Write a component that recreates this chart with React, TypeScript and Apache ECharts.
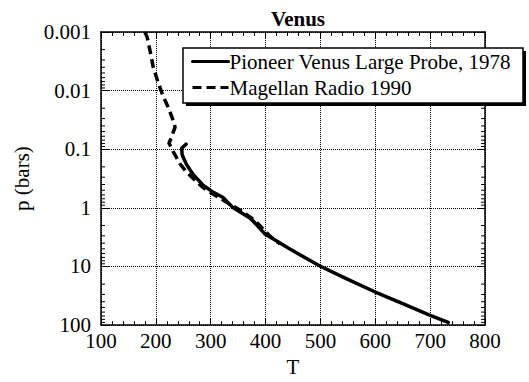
import React, { useEffect, useRef } from "react";
import * as echarts from "echarts";

// Pioneer Venus Large Probe, 1978 (solid)
const pioneerT = [255, 247, 248, 256, 268, 286, 304, 322, 341, 372, 385, 399, 421, 445, 499, 548, 599, 649, 700, 733];
const pioneerP = [0.082, 0.096, 0.125, 0.183, 0.27, 0.41, 0.54, 0.66, 1.0, 1.5, 2.0, 2.8, 3.7, 5.1, 9.8, 16.3, 27, 42.7, 68, 90];

// Magellan Radio 1990 (dashed)
const magellanT = [180, 184, 189, 195, 204, 213, 222, 229, 235, 229, 224, 231, 244, 255, 268, 286, 304, 326, 353, 381, 408, 426];
const magellanP = [0.001, 0.00121, 0.002, 0.0039, 0.0072, 0.0123, 0.0188, 0.0277, 0.042, 0.06, 0.079, 0.107, 0.177, 0.24, 0.315, 0.45, 0.58, 0.77, 1.09, 1.65, 3.05, 4.1];

const seriesNames = ["Pioneer Venus Large Probe, 1978", "Magellan Radio 1990"];
const xTicks = [100, 200, 300, 400, 500, 600, 700, 800];
const yTicks = [0.001, 0.01, 0.1, 1, 10, 100];
const minorMultipliers = [2, 3, 4, 5, 6, 7, 8, 9];

const FONT = "Liberation Serif";

export default function App() {
  const ref = useRef<HTMLDivElement>(null);
  useEffect(() => {
    if (!ref.current) return;
    const chart = echarts.init(ref.current, null, { renderer: "svg" });
    const minorTickVals: number[] = [];
    for (let i = 0; i < yTicks.length - 1; i++) {
      for (const m of minorMultipliers) minorTickVals.push(yTicks[i] * m);
    }
    const xMin = xTicks[0];
    const xMax = xTicks[xTicks.length - 1];
    const axisLineStyle = { color: "#000", width: 1.5 };
    chart.setOption({
      animation: false,
      backgroundColor: "#fff",
      textStyle: { fontFamily: FONT, color: "#000" },
      title: {
        text: "Venus",
        left: 293,
        textAlign: "center",
        top: 3,
        textStyle: { fontFamily: FONT, fontSize: 21, fontWeight: "bold", color: "#000" },
      },
      grid: { left: 101, right: 44, top: 32, bottom: 52, containLabel: false },
      graphic: [
        { type: "rect", z: 20, shape: { x: 186, y: 51, width: 340, height: 55 }, style: { fill: "#000" } },
        { type: "rect", z: 21, shape: { x: 183, y: 48, width: 340, height: 55 }, style: { fill: "#fff", stroke: "#000", lineWidth: 1.5 } },
      ],
      legend: {
        z: 30,
        orient: "vertical",
        left: 186,
        top: 46,
        itemGap: 5,
        itemWidth: 36,
        itemHeight: 20,
        data: seriesNames,
        itemStyle: { opacity: 0 },
        lineStyle: { width: 3 },
        textStyle: { fontFamily: FONT, fontSize: 21, color: "#000", padding: [0, 0, 0, -4] },
      },
      xAxis: [
        {
          type: "value",
          min: xMin,
          max: xMax,
          interval: 100,
          name: "T",
          nameLocation: "middle",
          nameGap: 30,
          nameTextStyle: { fontFamily: FONT, fontSize: 21, color: "#000" },
          axisLine: { show: true, lineStyle: axisLineStyle },
          axisTick: { show: true, inside: true, length: 7, lineStyle: { color: "#000", width: 1 } },
          minorTick: { show: true, splitNumber: 5, length: 4, lineStyle: { color: "#000", width: 1 } },
          axisLabel: { fontFamily: FONT, fontSize: 21, color: "#000", margin: 5 },
          splitLine: { show: true, lineStyle: { color: "#000", type: "dotted", width: 1 } },
        },
        {
          type: "value",
          position: "top",
          min: xMin,
          max: xMax,
          interval: 100,
          axisLine: { show: true, lineStyle: axisLineStyle },
          axisTick: { show: true, inside: true, length: 7, lineStyle: { color: "#000", width: 1 } },
          minorTick: { show: true, splitNumber: 5, length: 4, lineStyle: { color: "#000", width: 1 } },
          axisLabel: { show: false },
          splitLine: { show: false },
        },
      ],
      yAxis: [
        {
          type: "log",
          logBase: 10,
          inverse: true,
          min: yTicks[0],
          max: yTicks[yTicks.length - 1],
          name: "p (bars)",
          nameLocation: "middle",
          nameGap: 48,
          nameTextStyle: { fontFamily: FONT, fontSize: 21, color: "#000" },
          axisLine: { show: true, lineStyle: axisLineStyle },
          axisTick: { show: true, inside: true, length: 8, lineStyle: { color: "#000", width: 1 } },
          axisLabel: {
            fontFamily: FONT,
            fontSize: 21,
            color: "#000",
            margin: 10,
            formatter: (v: number) => {
              const found = yTicks.find((t) => Math.abs(t - v) / t < 1e-6);
              return found !== undefined ? String(found) : "";
            },
          },
          splitLine: { show: true, lineStyle: { color: "#000", type: "dotted", width: 1 } },
        },
        {
          type: "log",
          logBase: 10,
          inverse: true,
          position: "right",
          min: yTicks[0],
          max: yTicks[yTicks.length - 1],
          axisLine: { show: true, lineStyle: axisLineStyle },
          axisTick: { show: true, inside: true, length: 8, lineStyle: { color: "#000", width: 1 } },
          axisLabel: { show: false },
          splitLine: { show: false },
        },
      ],
      series: [
        {
          name: seriesNames[0],
          type: "line",
          xAxisIndex: 0,
          yAxisIndex: 0,
          symbol: "none",
          data: pioneerT.map((t, i) => [t, pioneerP[i]]),
          lineStyle: { color: "#000", width: 3.5, type: "solid", cap: "round", join: "round" },
          itemStyle: { color: "#000" },
          z: 5,
        },
        {
          name: seriesNames[1],
          type: "line",
          xAxisIndex: 0,
          yAxisIndex: 0,
          symbol: "none",
          data: magellanT.map((t, i) => [t, magellanP[i]]),
          lineStyle: { color: "#000", width: 3.5, type: [9, 5], join: "round" },
          itemStyle: { color: "#000" },
          z: 5,
        },
        {
          name: "minorTicks",
          type: "custom",
          xAxisIndex: 0,
          yAxisIndex: 0,
          silent: true,
          clip: false,
          data: minorTickVals.map((p) => [xMin, p]),
          renderItem: (params: any, api: any) => {
            const p = api.value(1);
            const left = api.coord([xMin, p]);
            const right = api.coord([xMax, p]);
            const len = 4;
            const style = { stroke: "#000", lineWidth: 1 };
            return {
              type: "group",
              children: [
                { type: "line", shape: { x1: left[0], y1: left[1], x2: left[0] + len, y2: left[1] }, style },
                { type: "line", shape: { x1: right[0], y1: right[1], x2: right[0] - len, y2: right[1] }, style },
              ],
            };
          },
        },
      ],
    });
    return () => chart.dispose();
  }, []);
  return <div ref={ref} style={{ width: 529, height: 382, position: "absolute", left: 0, top: 0 }} />;
}
